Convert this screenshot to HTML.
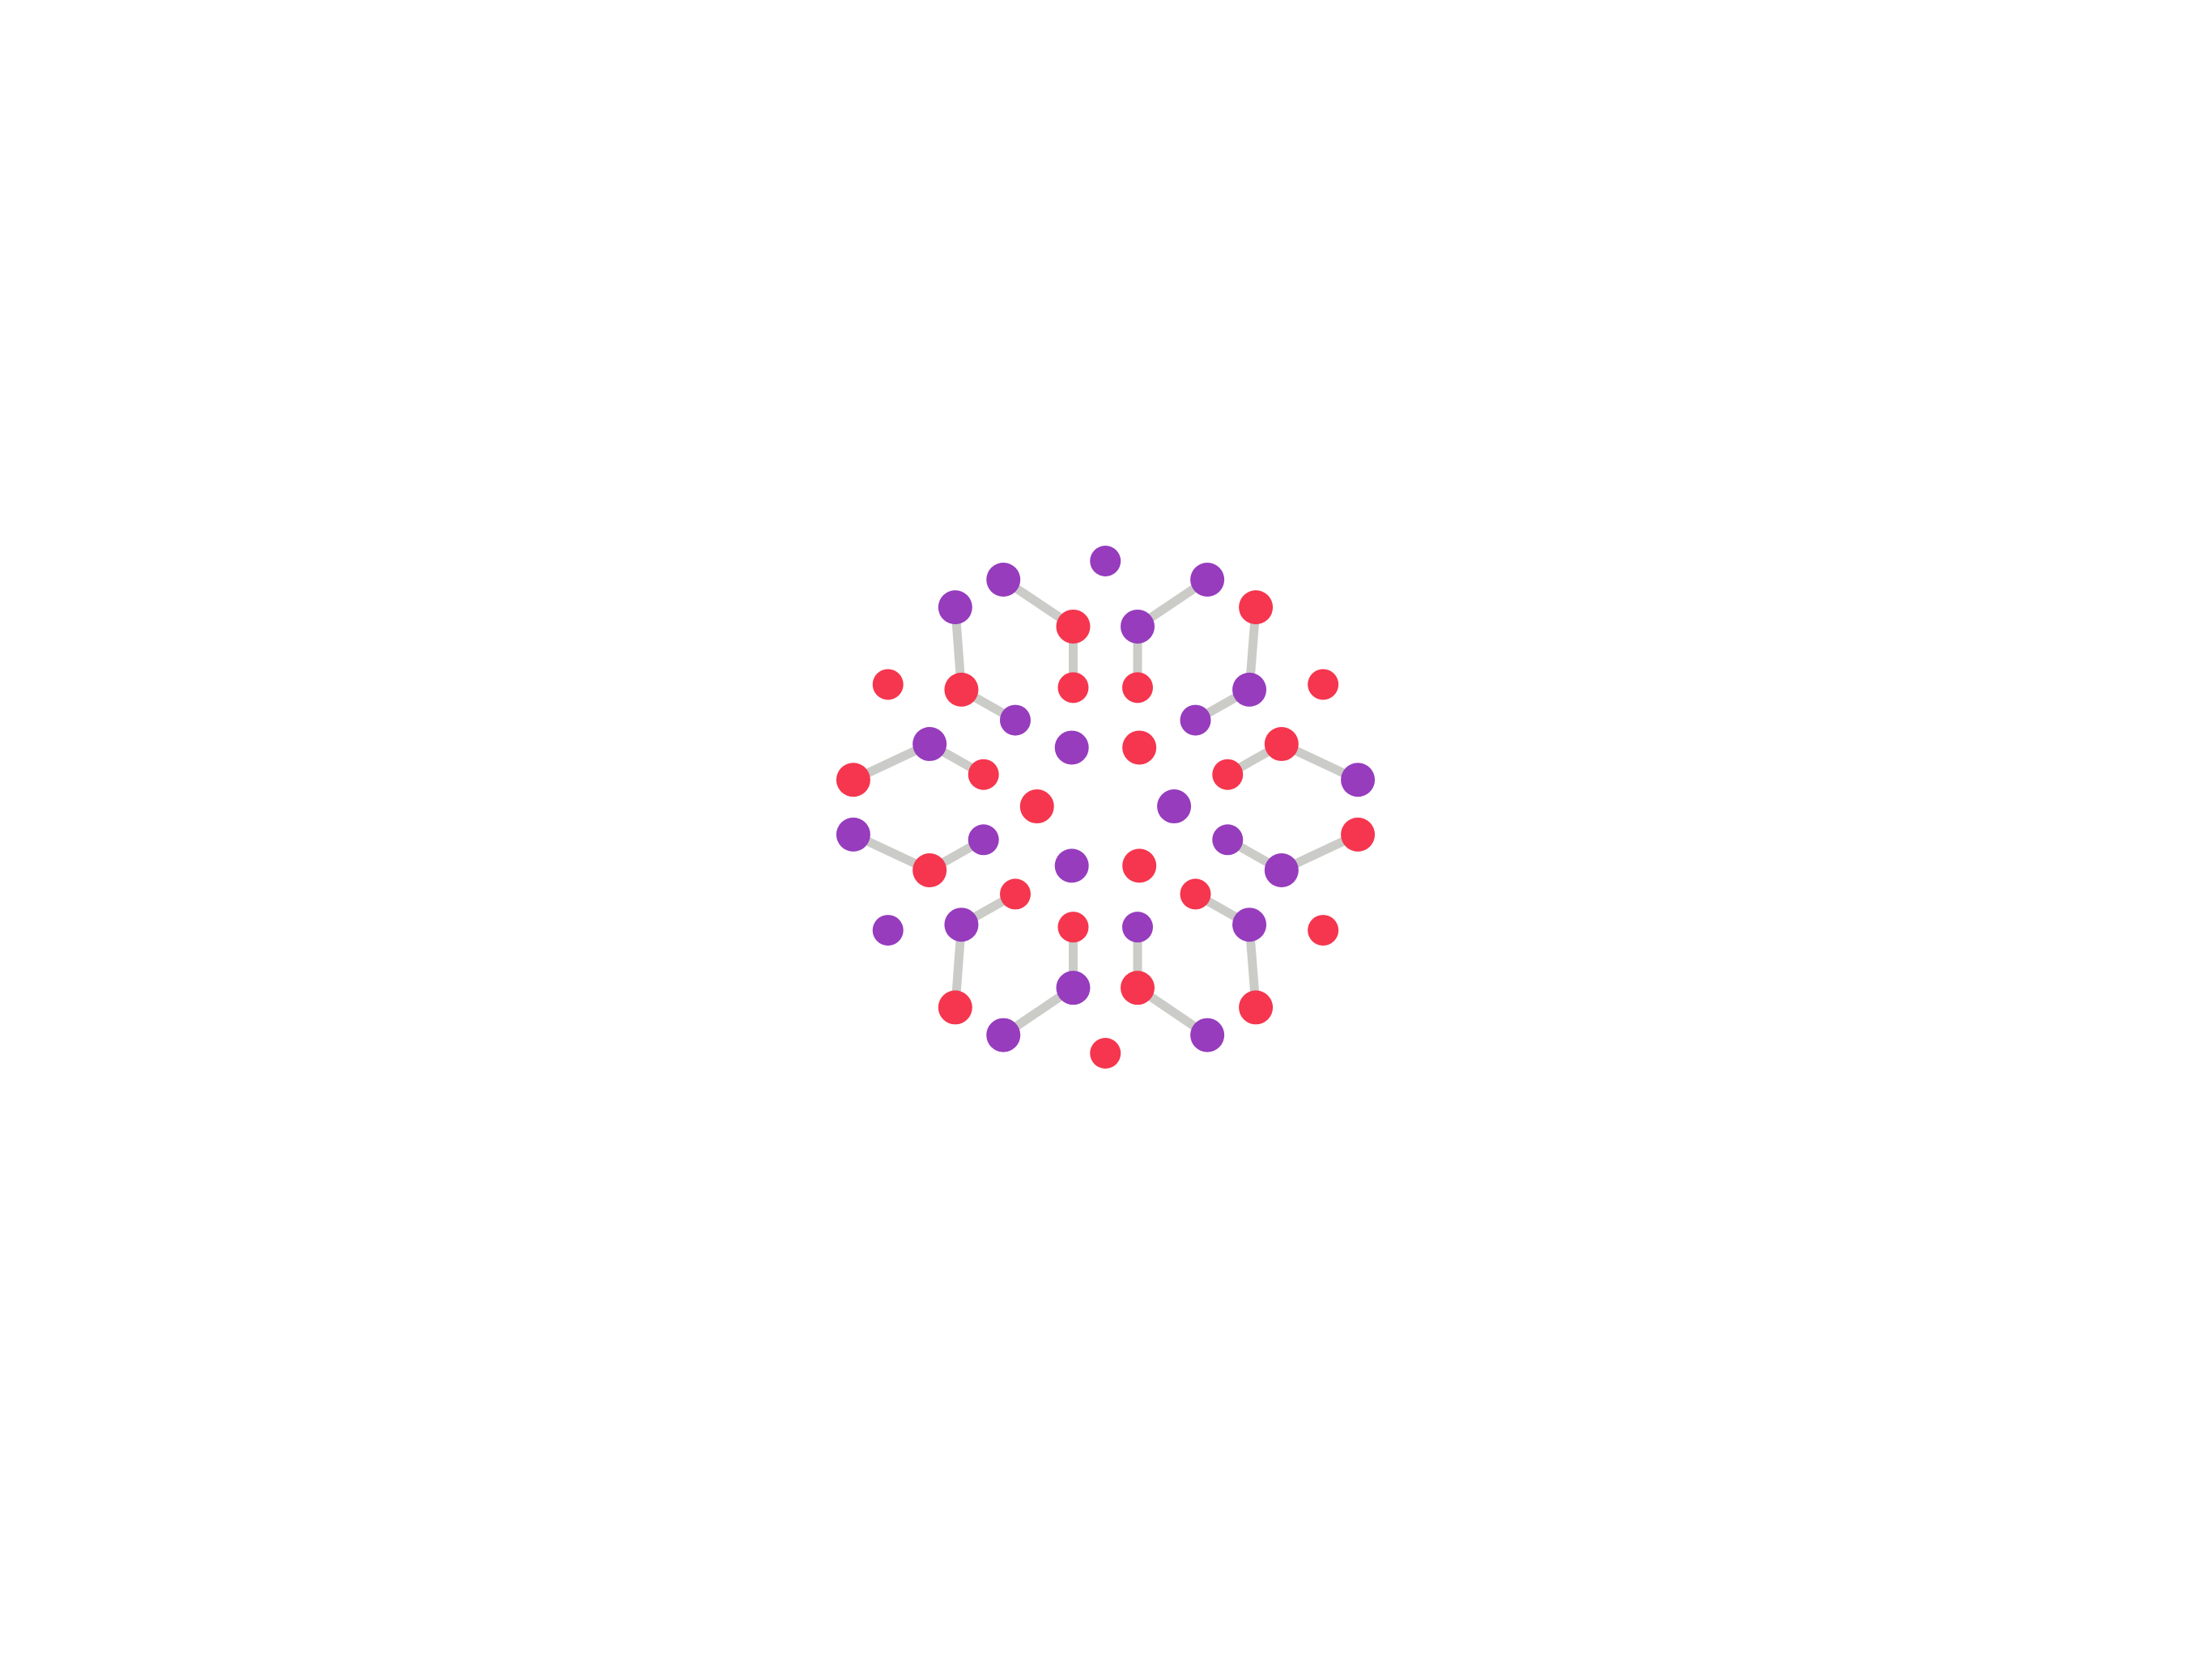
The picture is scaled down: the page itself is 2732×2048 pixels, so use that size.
<!DOCTYPE html>
<html><head><meta charset="utf-8"><style>
html,body{margin:0;padding:0;background:#fff;}
svg{display:block;}
</style></head><body>
<svg id="chart" width="2732" height="2048" viewBox="0 0 2732 2048" xmlns="http://www.w3.org/2000/svg">
<g id="links"></g>
<g id="nodes"></g>
</svg>
<script>
const nodeX = [1368.7,1241.3,1496,1181.2,1556.6,1328.5,1408.9,1097.2,1188.9,1328.5,1408.9,1548.5,1640.6,1256.2,1481.2,1149.2,1326.7,1411.1,1588.7,1053.9,1216.5,1521.4,1684,1283.3,1454.5,
1053.9,1216.5,1521.4,1684,1149.2,1326.7,1411.1,1588.7,1256.2,1481.2,1097.2,1188.9,1328.5,1408.9,1548.5,1640.6,1181.2,1328.5,1408.9,1556.6,1241.3,1496,1368.7];
const nodeY = [693,717,717,752.6,752.6,777.4,777.4,852,858.7,856,856,858.7,852,898,898,928.7,933.3,933.3,928.7,974.8,968,968,974.8,1009,1009,
1045.3,1052,1052,1045.3,1091.3,1085.5,1085.5,1091.3,1122,1122,1168.6,1161.4,1164.5,1164.5,1161.4,1168.6,1268,1242.7,1242.7,1268,1303.6,1303.6,1327];
const nodeGroup = ["p","p","p","p","r","r","p","r","r","r","r","p","r","p","p","p","p","r","r","r","r","r","p","r","p",
"p","p","p","r","r","p","r","p","r","r","p","p","r","p","p","r","r","p","r","r","p","p","r"];
const nodeSize = [19,21,21,21,21,21,21,19,21,19,19,21,19,19,19,21,21,21,21,21,19,19,21,21,21,
21,19,19,21,21,21,21,21,19,19,19,21,19,19,21,19,21,21,21,21,21,21,19];
const linkSource = [2,6,3,7,4,9,5,12,20,16,19,19,26,30,28,33,37,37,35,40,38,43,39,44];
const linkTarget = [6,10,7,11,9,14,12,15,16,21,22,23,30,27,33,29,34,42,40,45,43,46,44,47];

function sx(v){ return 1053.9 + (v - 1053.9) * 0.989; }
function sy(v){ return 693 + (v - 693) * 0.959; }

const NS = "http://www.w3.org/2000/svg";
const colors = {p:"#963cbd", r:"#f5364e"};
const gL = document.getElementById("links");
const gN = document.getElementById("nodes");
for (let i = 0; i < linkSource.length; i++) {
  const a = linkSource[i]-1, b = linkTarget[i]-1;
  const l = document.createElementNS(NS,"line");
  l.setAttribute("x1",sx(nodeX[a])); l.setAttribute("y1",sy(nodeY[a]));
  l.setAttribute("x2",sx(nodeX[b])); l.setAttribute("y2",sy(nodeY[b]));
  l.setAttribute("stroke","#cbcbc8"); l.setAttribute("stroke-width","11");
  
  
  gL.appendChild(l);
}
for (let i = 0; i < nodeX.length; i++) {
  const c = document.createElementNS(NS,"circle");
  c.setAttribute("cx",sx(nodeX[i])); c.setAttribute("cy",sy(nodeY[i]));
  c.setAttribute("r",nodeSize[i]);
  c.setAttribute("fill",colors[nodeGroup[i]]);
  
  
  gN.appendChild(c);
}
</script>
</body></html>
